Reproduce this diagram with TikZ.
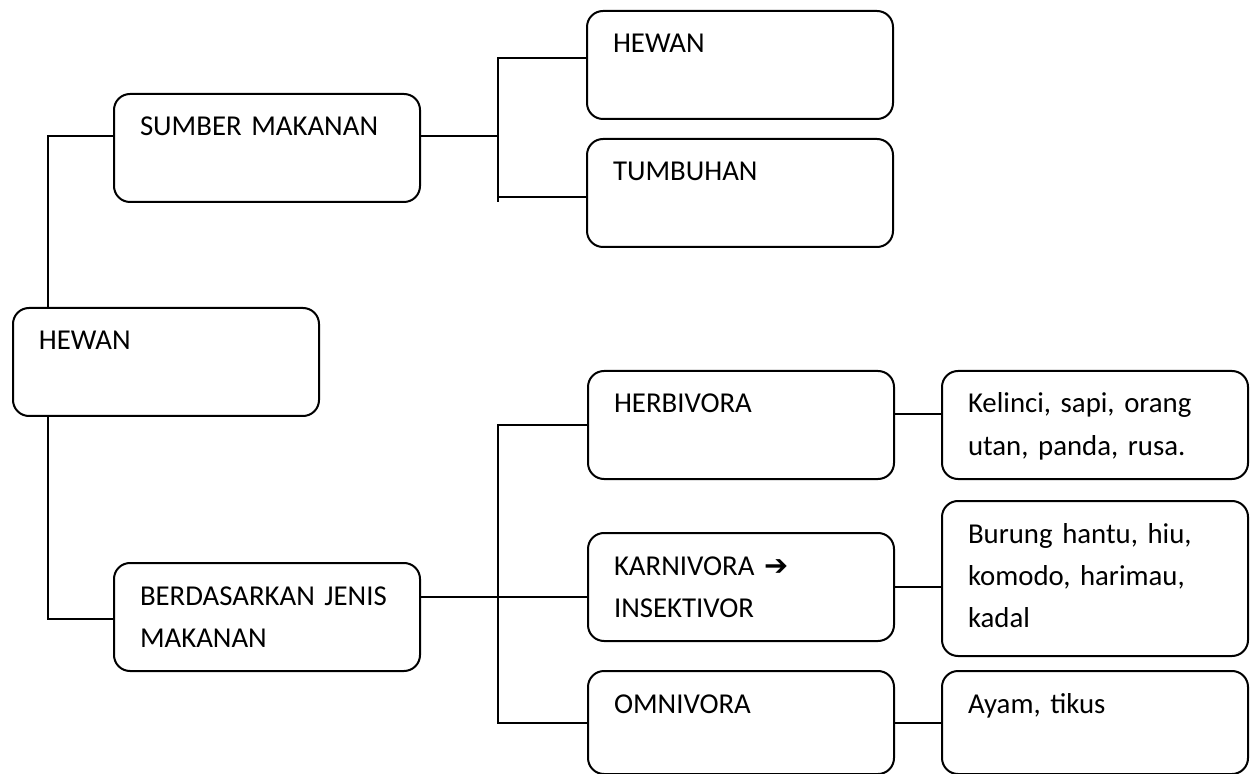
\documentclass[tikz,border=0pt]{standalone}
\usepackage{fontspec}
\setmainfont{Carlito}
\newfontfamily\panahfont{DejaVu Sans}
\usepackage{tikz}
\tikzset{
  kotak/.style={draw, line width=1pt, rounded corners=8pt, anchor=north west,
    inner xsep=13pt, inner ysep=0pt, text width=127pt, align=left,
    text height=21pt, text depth=#1},
  kotak/.default=33pt,
  garis/.style={line width=1pt}
}
\begin{document}
\begin{tikzpicture}[x=0.5pt, y=-0.5pt, font=\fontsize{14.4}{21}\selectfont]
    \useasboundingbox (0,0) rectangle (1251,774);

    \node[kotak] at (12,307) (akar) {HEWAN};
    \node[kotak] at (113,93) (sumber) {SUMBER MAKANAN};
    \node[kotak] at (113,562) (berdasar) {BERDASARKAN JENIS\\MAKANAN};

    \node[kotak] at (586,10) (hewanb) {HEWAN};
    \node[kotak] at (586,138) (tumbuhan) {TUMBUHAN};

    \node[kotak] at (587,370) (herbivora) {HERBIVORA};
    \node[kotak] at (587,532) (karnivora) {KARNIVORA {\panahfont ➔}\\INSEKTIVOR};
    \node[kotak=30.5pt] at (587,670) (omnivora) {OMNIVORA};

    \node[kotak] at (941,370) (kelinci) {Kelinci, sapi, orang\\utan, panda, rusa.};
    \node[kotak=56.5pt] at (941,500) (burung) {Burung hantu, hiu,\\komodo, harimau,\\kadal};
    \node[kotak=30.5pt] at (941,670) (ayam) {Ayam, tikus};

    \coordinate (batang1) at (498,136);
    \coordinate (ujung1) at (498,202);
    \coordinate (batang2) at (498,597);

    \draw[garis] ([xshift=18pt]akar.north west) |- ([yshift=6pt]sumber.west);
    \draw[garis] ([xshift=18pt]akar.south west) |- ([yshift=-1pt]berdasar.west);

    \draw[garis] ([yshift=3.5pt]hewanb.west) -| (ujung1);
    \draw[garis] ([yshift=-2pt]tumbuhan.west) -| (batang1);
    \draw[garis] ([yshift=6pt]sumber.east) -- (batang1);

    \draw[garis] (herbivora.west) -| (batang2);
    \draw[garis] (omnivora.west) -| (batang2);
    \draw[garis] ([yshift=10pt]berdasar.east) -- ([yshift=-5pt]karnivora.west);

    \draw[garis] ([yshift=5.5pt]herbivora.east) -- ([yshift=5.5pt]kelinci.west);
    \draw[garis] (karnivora.east) -- (karnivora.east -| burung.west);
    \draw[garis] (omnivora.east) -- (ayam.west);
  \end{tikzpicture}
\end{document}
